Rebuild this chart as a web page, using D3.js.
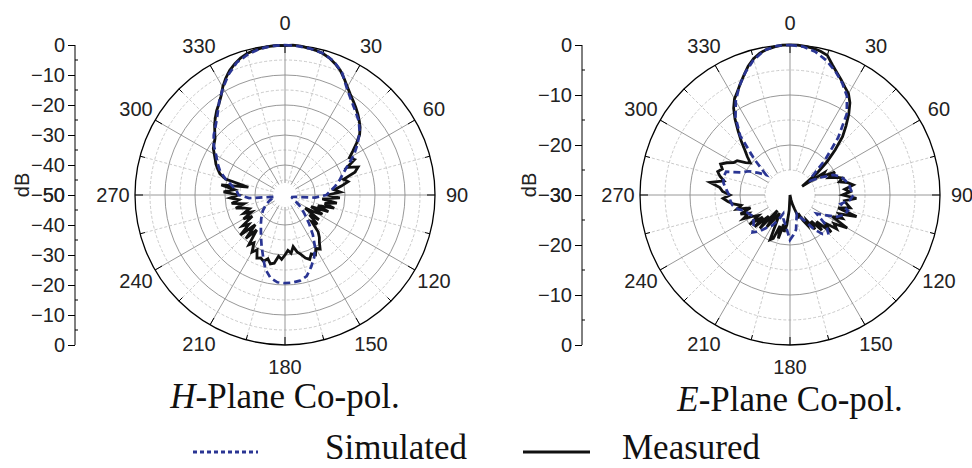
<!DOCTYPE html>
<html><head><meta charset="utf-8">
<script src="https://cdn.jsdelivr.net/npm/d3@7"></script>
<style>body{margin:0;background:#fff}</style>
</head><body>
<svg id="c" width="972" height="468"></svg>
<script>
// ---------------- data ----------------
const angleLabels = [0, 30, 60, 90, 120, 150, 180, 210, 240, 270, 300, 330];
const simStep = 5;   // degrees between simulated samples
const measStep = 3;  // degrees between measured samples

// H-plane, simulated (dB), 0..355 step 5
const hSimDB = [0, -0.2, -0.5, -1.1, -2.5, -5.0, -8.8, -11.5, -13.5, -15.2,
  -17.5, -20.5, -23.5, -27.0, -29.5, -31.2, -33.0, -34.8, -36.2, -40.0,
  -46.5, -47.5, -47.5, -47.0, -46.2, -44.5, -42.5, -40.5, -37.5, -33.8,
  -30.0, -27.0, -24.5, -22.0, -21.0, -20.7, -20.6, -20.8, -22.0, -24.5,
  -28.5, -31.5, -34.0, -36.0, -37.5, -38.8, -40.0, -41.0, -42.3, -43.5,
  -44.5, -45.5, -46.5, -38.0, -34.5, -33.8, -32.0, -29.5, -27.0, -25.2,
  -23.5, -21.0, -19.0, -17.3, -15.0, -11.8, -8.7, -5.6, -3.0, -1.6,
  -0.6, -0.1];

// H-plane, measured (dB), 0..357 step 3
const hMeasDB = [-0.2, 0, -0.1, -0.4, -0.7, -1.2, -2.0, -3.2, -4.6, -6.5,
  -8.4, -10.0, -11.3, -12.5, -13.7, -15.0, -16.3, -18.0, -20.5, -23.0,
  -25.2, -24.0, -27.4, -23.9, -25.5, -29.8, -28.5, -31.0, -33.5, -31.5,
  -36.0, -31.7, -37.5, -32.5, -36.5, -33.0, -38.5, -34.5, -40.5, -36.0,
  -38.5, -42.0, -36.0, -39.5, -35.5, -37.4, -33.5, -31.8, -30.5, -28.5,
  -29.5, -27.6, -28.5, -27.0, -27.9, -29.5, -30.6, -32.6, -30.5, -31.5,
  -30.0, -28.5, -29.5, -27.0, -26.5, -28.0, -26.8, -27.5, -27.0, -29.5,
  -28.0, -31.0, -29.5, -35.0, -30.5, -36.0, -30.0, -34.5, -32.5, -37.0,
  -34.0, -37.5, -35.0, -37.3, -35.9, -33.0, -36.0, -32.0, -34.5, -31.7,
  -34.4, -29.5, -33.0, -28.5, -37.5, -29.5, -27.2, -26.0, -24.8, -23.9,
  -22.8, -21.5, -20.8, -20.0, -18.5, -16.8, -15.3, -13.8, -12.5, -10.8,
  -8.5, -6.4, -4.6, -3.2, -2.0, -1.2, -0.7, -0.4, -0.2, -0.1];

// E-plane, simulated (dB), 0..355 step 5
const eSimDB = [0, -0.2, -0.9, -2.1, -3.6, -5.3, -7.2, -10.2, -15.0, -20.1,
  -24.2, -25.0, -23.0, -20.5, -19.2, -18.6, -18.0, -17.8, -17.3, -18.0,
  -19.7, -18.0, -18.4, -19.7, -22.0, -23.5, -20.5, -19.2, -19.8, -21.6,
  -24.0, -25.0, -26.0, -25.0, -23.0, -22.0, -21.0, -23.0, -24.2, -25.0,
  -26.0, -24.5, -23.0, -22.1, -20.5, -19.4, -20.5, -21.1, -21.5, -21.0,
  -20.5, -19.2, -18.3, -18.0, -17.8, -17.2, -16.5, -16.2, -16.4, -19.3,
  -20.5, -22.3, -23.8, -20.0, -14.5, -11.0, -8.3, -6.0, -3.9, -2.0,
  -0.6, -0.05];

// E-plane, measured (dB), 0..357 step 3
const eMeasDB = [0, 0, -0.1, -0.3, -0.6, -1.1, -2.6, -3.8, -4.8, -5.8,
  -6.6, -8.0, -10.0, -12.2, -14.3, -17.2, -20.0, -23.0, -27.0, -21.8,
  -22.5, -19.9, -21.5, -20.1, -19.0, -19.8, -18.2, -17.2, -19.0, -18.0,
  -19.5, -16.7, -19.0, -18.5, -17.7, -20.0, -16.0, -19.5, -18.5, -20.5,
  -16.8, -19.5, -18.5, -21.3, -18.9, -22.5, -20.5, -23.3, -21.5, -24.0,
  -23.0, -24.3, -26.0, -25.0, -27.0, -28.0, -29.0, -30.0, -29.0, -30.0,
  -30.0, -27.0, -24.0, -22.5, -24.0, -21.0, -23.5, -20.7, -20.2, -24.5,
  -25.8, -24.0, -22.1, -26.0, -21.0, -24.0, -20.5, -23.0, -20.0, -22.5,
  -21.5, -19.5, -21.0, -19.4, -21.7, -19.0, -20.0, -18.5, -17.5, -16.6,
  -18.0, -16.5, -15.9, -13.8, -16.5, -15.5, -14.8, -15.5, -14.8, -15.8,
  -17.0, -17.4, -19.0, -19.8, -18.5, -17.2, -15.4, -13.5, -11.3, -9.3,
  -7.8, -6.8, -5.6, -4.3, -2.9, -1.8, -1.0, -0.5, -0.2, 0];

const hAxisTicks = [0, -10, -20, -30, -40, -50];
const eAxisTicks = [0, -10, -20, -30];
const titles = ["H", "E"];
const legendNames = ["Simulated", "Measured"];

// ---------------- drawing ----------------
const BLUE = "#2a3593";
const svg = d3.select("#c");
const numFont = "'Liberation Sans', Arial, sans-serif";
const serif = "'Liberation Serif', 'Times New Roman', serif";

function drawPolar(cfg) {
  const R = 150;
  const g = svg.append("g").attr("transform", `translate(${cfg.cx},${cfg.cy})`);
  const r = d3.scaleLinear().domain([cfg.min, 0]).range([0, R]).clamp(true);
  const a = d3.scaleLinear().domain([0, 360]).range([0, 2 * Math.PI]);
  const innerR = r(cfg.innerDB);

  // circles
  cfg.dashCircles.forEach(v => g.append("circle").attr("r", r(v))
    .attr("fill", "none").attr("stroke", "#bdbdbd").attr("stroke-width", 0.8)
    .attr("stroke-dasharray", "3,2"));
  cfg.solidCircles.forEach(v => g.append("circle").attr("r", r(v))
    .attr("fill", "none").attr("stroke", "#8c8c8c").attr("stroke-width", 0.9));

  // radial lines
  d3.range(0, 360, 15).forEach(deg => {
    const t = a(deg), major = deg % 30 === 0;
    g.append("line")
      .attr("x1", innerR * Math.sin(t)).attr("y1", -innerR * Math.cos(t))
      .attr("x2", R * Math.sin(t)).attr("y2", -R * Math.cos(t))
      .attr("stroke", major ? "#8c8c8c" : "#bdbdbd")
      .attr("stroke-width", major ? 0.9 : 0.8)
      .attr("stroke-dasharray", major ? null : "3,2");
    const tl = major ? 8 : 5;
    g.append("line")
      .attr("x1", (R - tl) * Math.sin(t)).attr("y1", -(R - tl) * Math.cos(t))
      .attr("x2", R * Math.sin(t)).attr("y2", -R * Math.cos(t))
      .attr("stroke", "#000").attr("stroke-width", 1);
  });

  // outer circle
  g.append("circle").attr("r", R).attr("fill", "none")
    .attr("stroke", "#000").attr("stroke-width", 1.3);

  // angle labels
  angleLabels.forEach(deg => {
    const t = a(deg), lr = 172;
    g.append("text").attr("x", lr * Math.sin(t)).attr("y", -lr * Math.cos(t))
      .attr("text-anchor", "middle").attr("dominant-baseline", "central")
      .attr("font-family", numFont).attr("font-size", 20).attr("fill", "#222")
      .text(deg);
  });

  // series
  const line = d3.lineRadial().angle(d => a(d.a)).radius(d => r(d.v));
  const toPts = (arr, step) => {
    const p = arr.map((v, i) => ({a: i * step, v}));
    p.push({a: 360, v: arr[0]});
    return p;
  };
  g.append("path").attr("d", line(toPts(cfg.meas, measStep)))
    .attr("fill", "none").attr("stroke", "#111").attr("stroke-width", 2.8)
    .attr("stroke-linejoin", "miter");
  g.append("path").attr("d", line(toPts(cfg.sim, simStep)))
    .attr("fill", "none").attr("stroke", BLUE).attr("stroke-width", 2.7)
    .attr("stroke-dasharray", "7,4");

  // left dB axis
  const ax = svg.append("g").attr("transform", `translate(${cfg.axisX},0)`);
  const up = d3.scaleLinear().domain([cfg.min, 0]).range([cfg.cy, cfg.cy - R]);
  const dn = d3.scaleLinear().domain([cfg.min, 0]).range([cfg.cy, cfg.cy + R]);
  [up, dn].forEach(s => {
    const axg = ax.append("g").call(d3.axisLeft(s).tickValues(cfg.ticks)
      .tickSize(7).tickPadding(3).tickFormat(d3.format("d")));
    axg.select(".domain").remove();
    axg.selectAll("text").attr("font-family", numFont).attr("font-size", 20).attr("fill", "#222");
    axg.selectAll("line").attr("stroke", "#000");
    cfg.minorTicks.forEach(v => ax.append("line").attr("x1", 0).attr("x2", 3)
      .attr("y1", s(v)).attr("y2", s(v)).attr("stroke", "#000"));
  });
  ax.append("line").attr("x1", 0).attr("x2", 0).attr("y1", cfg.cy - R).attr("y2", cfg.cy + R)
    .attr("stroke", "#000").attr("stroke-width", 1);
  svg.append("text").attr("transform", `translate(${cfg.axisX - 53},${cfg.cy - 10}) rotate(-90)`)
    .attr("text-anchor", "middle").attr("dominant-baseline", "central")
    .attr("font-family", numFont).attr("font-size", 20).attr("fill", "#222").text("dB");

  // title
  const tt = svg.append("text").attr("x", cfg.cx + cfg.titleDX).attr("y", cfg.titleY)
    .attr("text-anchor", "middle").attr("font-family", serif).attr("font-size", 35).attr("fill", "#111");
  tt.append("tspan").attr("font-style", "italic").text(cfg.title);
  tt.append("tspan").text("-Plane Co-pol.");
}

drawPolar({
  cx: 285, cy: 195, min: -50, innerDB: -46,
  dashCircles: [-45, -35, -25, -15, -5], solidCircles: [-40, -30, -20, -10],
  sim: hSimDB, meas: hMeasDB, axisX: 75, ticks: hAxisTicks,
  minorTicks: [-5, -15, -25, -35, -45], title: titles[0], titleY: 408, titleDX: 0
});
drawPolar({
  cx: 790, cy: 195, min: -30, innerDB: -25,
  dashCircles: [-25, -15, -5], solidCircles: [-20, -10],
  sim: eSimDB, meas: eMeasDB, axisX: 582, ticks: eAxisTicks,
  minorTicks: [-5, -15, -25], title: titles[1], titleY: 411, titleDX: 0
});

// legend
const lg = svg.append("g");
lg.append("line").attr("x1", 193).attr("x2", 258).attr("y1", 452).attr("y2", 452)
  .attr("stroke", BLUE).attr("stroke-width", 2.8).attr("stroke-dasharray", "4,3");
lg.append("text").attr("x", 325).attr("y", 459).attr("font-family", serif)
  .attr("font-size", 35).attr("fill", "#111").text(legendNames[0]);
lg.append("line").attr("x1", 523).attr("x2", 590).attr("y1", 452).attr("y2", 452)
  .attr("stroke", "#111").attr("stroke-width", 3);
lg.append("text").attr("x", 622).attr("y", 459).attr("font-family", serif)
  .attr("font-size", 35).attr("fill", "#111").text(legendNames[1]);
</script>
</body></html>
